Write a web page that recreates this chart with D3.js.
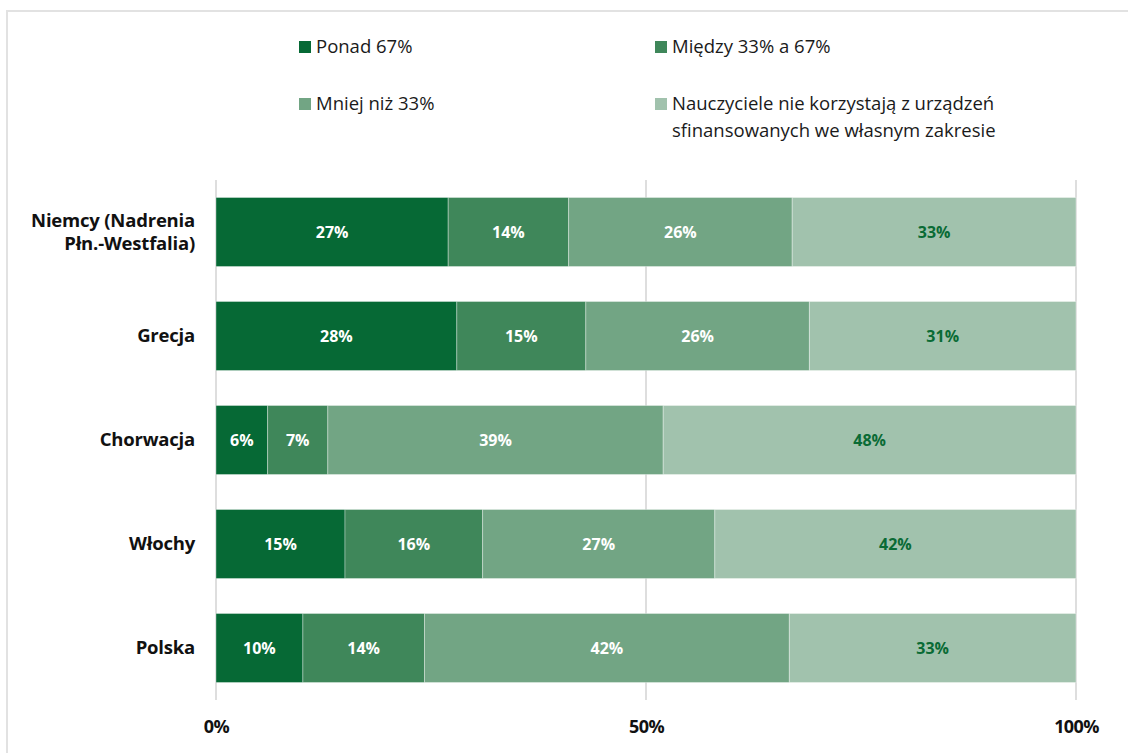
<!DOCTYPE html>
<html lang="pl">
<head>
<meta charset="utf-8">
<script src="https://cdn.jsdelivr.net/npm/d3@7"></script>
<style>
  html, body { margin: 0; padding: 0; background: #fff; }
  svg { display: block; font-family: "Open Sans", "Noto Sans", sans-serif; }
</style>
</head>
<body>
<svg id="chart" width="1128" height="753"></svg>
<script>
// Countries (top to bottom) and the share of teachers per usage band
const countries = ["Niemcy (Nadrenia\nPłn.-Westfalia)", "Grecja", "Chorwacja", "Włochy", "Polska"];
const seriesNames = [
  "Ponad 67%",
  "Między 33% a 67%",
  "Mniej niż 33%",
  "Nauczyciele nie korzystają z urządzeń\nsfinansowanych we własnym zakresie"
];
const ponad67   = [27, 28, 6, 15, 10];
const miedzy    = [14, 15, 7, 16, 14];
const mniej33   = [26, 26, 39, 27, 42];
const nieKorzys = [33, 31, 48, 42, 33];
const tickValues = [0, 0.5, 1];
const tickLabels = ["0%", "50%", "100%"];

const colors = ["#066935", "#3f875a", "#72a584", "#a1c2ad"];
const labelColors = ["#ffffff", "#ffffff", "#ffffff", "#0a6b35"];

const seriesValues = [ponad67, miedzy, mniej33, nieKorzys];
const keys = ["s0", "s1", "s2", "s3"];
const rows = countries.map((c, i) => {
  const r = { country: c };
  keys.forEach((k, j) => { r[k] = seriesValues[j][i]; });
  return r;
});

const svg = d3.select("#chart");

// outer frame
svg.append("rect")
  .attr("x", 7).attr("y", 11)
  .attr("width", 1200).attr("height", 800)
  .attr("fill", "none").attr("stroke", "#e2e2e2").attr("stroke-width", 2);

const x = d3.scaleLinear().domain([0, 1]).range([216, 1076]);
const y = d3.scaleBand().domain(countries).range([180, 700])
  .paddingInner(0.3365).paddingOuter(0.3365 / 2);

// vertical gridlines
svg.append("g").selectAll("line").data(tickValues).join("line")
  .attr("x1", d => x(d)).attr("x2", d => x(d))
  .attr("y1", 180).attr("y2", 700)
  .attr("stroke", "#dedede").attr("stroke-width", 2);

// x axis tick labels
const xAxis = d3.axisBottom(x).tickValues(tickValues)
  .tickFormat((d, i) => tickLabels[i]).tickSize(0).tickPadding(0);
const gx = svg.append("g").attr("transform", "translate(0,720)").call(xAxis);
gx.select(".domain").remove();
gx.selectAll("text")
  .attr("font-family", "'Open Sans', sans-serif")
  .attr("font-size", 18).attr("font-weight", 700).attr("fill", "#111")
  .attr("letter-spacing", "-0.6");

// stacked bars, expanded to the full 100% width
const stacked = d3.stack().keys(keys).offset(d3.stackOffsetExpand)(rows);

const layers = svg.append("g").selectAll("g").data(stacked).join("g")
  .attr("fill", (d, i) => colors[i]);

layers.selectAll("rect").data(d => d).join("rect")
  .attr("x", d => x(d[0]))
  .attr("y", d => y(d.data.country))
  .attr("width", d => x(d[1]) - x(d[0]))
  .attr("height", y.bandwidth())
  .attr("stroke", "rgba(255,255,255,0.35)")
  .attr("stroke-width", 1);

// value labels
stacked.forEach((layer, i) => {
  svg.append("g").selectAll("text").data(layer).join("text")
    .attr("x", d => (x(d[0]) + x(d[1])) / 2)
    .attr("y", d => y(d.data.country) + y.bandwidth() / 2)
    .attr("dy", "0.36em")
    .attr("text-anchor", "middle")
    .attr("font-size", 16).attr("font-weight", 700)
    .attr("fill", labelColors[i])
    .text(d => d.data[keys[i]] + "%");
});

// category labels
const cat = svg.append("g").selectAll("text").data(countries).join("text")
  .attr("text-anchor", "end")
  .attr("font-size", 18.5).attr("font-weight", 700).attr("fill", "#111")
  .attr("letter-spacing", "-0.2");
cat.each(function(d) {
  const lines = d.split("\n");
  const cy = y(d) + y.bandwidth() / 2;
  const lh = 23.5;
  const t = d3.select(this);
  lines.forEach((ln, k) => {
    t.append("tspan")
      .attr("x", 195)
      .attr("y", cy + (k - (lines.length - 1) / 2) * lh)
      .attr("dy", "0.35em")
      .text(ln);
  });
});

// legend, two columns by two rows
const legendPos = [[299, 47], [655, 47], [299, 104], [655, 104]];
const legend = svg.append("g").selectAll("g").data(seriesNames).join("g")
  .attr("transform", (d, i) => `translate(${legendPos[i][0]},${legendPos[i][1]})`);
legend.append("rect")
  .attr("x", 0).attr("y", -6).attr("width", 12).attr("height", 12)
  .attr("fill", (d, i) => colors[i]);
legend.append("text")
  .attr("font-size", 18.5).attr("fill", "#1a1a1a")
  .each(function(d) {
    const t = d3.select(this);
    d.split("\n").forEach((ln, k) => {
      t.append("tspan").attr("x", 17).attr("y", k * 27).attr("dy", "0.35em").text(ln);
    });
  });
</script>
</body>
</html>
